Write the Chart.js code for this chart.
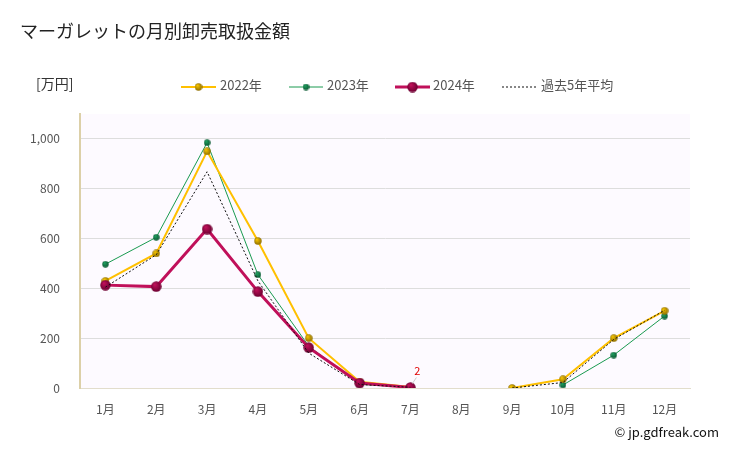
<!DOCTYPE html>
<html>
<head>
<meta charset="utf-8">
<script src="https://cdn.jsdelivr.net/npm/chart.js@4"></script>
<style>
  html, body { margin: 0; padding: 0; background: #fff; }
  #wrap { width: 729px; height: 450px; position: relative; }
</style>
</head>
<body>
<div id="wrap"><canvas id="chart" width="729" height="450"></canvas></div>
<script>
const months = ["1月", "2月", "3月", "4月", "5月", "6月", "7月", "8月", "9月", "10月", "11月", "12月"];
const values2022 = [430, 540, 950, 590, 200, 25, 4, null, 0, 35, 200, 310];
const values2023 = [497, 605, 985, 455, 168, 15, 3, null, null, 12, 132, 289];
const values2024 = [413, 407, 638, 387, 162, 20, 2, null, null, null, null, null];
const valuesAvg = [405, 535, 868, 430, 140, 14, 3, null, 0, 22, 195, 312];
const yTicks = [0, 200, 400, 600, 800, 1000];

const FONT = "'Noto Sans CJK JP', 'Noto Sans', sans-serif";

function sphere(color, dark, size) {
  const c = document.createElement("canvas");
  c.width = size;
  c.height = size;
  const ctx = c.getContext("2d");
  const r = size / 2;
  const g = ctx.createRadialGradient(r * 0.7, r * 0.6, r * 0.1, r, r, r);
  g.addColorStop(0, color);
  g.addColorStop(1, dark);
  ctx.fillStyle = g;
  ctx.beginPath();
  ctx.arc(r, r, r - 0.3, 0, Math.PI * 2);
  ctx.fill();
  return c;
}

const dot2022 = sphere("#f5c400", "#8a6a00", 8);
const dot2023 = sphere("#1fa060", "#0a5530", 7);
const dot2024 = sphere("#c0105a", "#6a0030", 11);

const series = [
  { label: "2022年", color: "#ffc000", width: 2, dot: dot2022, dash: [] },
  { label: "2023年", color: "#1a9a50", width: 1, dot: dot2023, dash: [] },
  { label: "2024年", color: "#c0105a", width: 3, dot: dot2024, dash: [] },
  { label: "過去5年平均", color: "#111", width: 1, dot: null, dash: [2, 2] },
];

const decorPlugin = {
  id: "decor",
  beforeDraw(chart) {
    const { ctx, chartArea } = chart;
    ctx.save();
    ctx.fillStyle = "#fdfaff";
    ctx.fillRect(chartArea.left, chartArea.top, chartArea.right - chartArea.left, chartArea.bottom - chartArea.top);
    ctx.restore();
  },
  afterDraw(chart) {
    const { ctx } = chart;
    ctx.save();
    ctx.fillStyle = "#222";
    ctx.font = `18px ${FONT}`;
    ctx.textBaseline = "middle";
    ctx.fillText("マーガレットの月別卸売取扱金額", 20, 31);

    ctx.font = `14px ${FONT}`;
    ctx.fillStyle = "#333";
    ctx.fillText("[万円]", 36, 84);

    // legend
    const items = [
      { x0: 181, x1: 216, tx: 220 },
      { x0: 289, x1: 323, tx: 327 },
      { x0: 395, x1: 430, tx: 433 },
      { x0: 502, x1: 536, tx: 541 },
    ];
    ctx.font = `13px ${FONT}`;
    items.forEach((it, i) => {
      const s = series[i];
      const y = 87;
      ctx.strokeStyle = s.color;
      ctx.lineWidth = s.width;
      ctx.setLineDash(s.dash);
      ctx.beginPath();
      ctx.moveTo(it.x0, y);
      ctx.lineTo(it.x1, y);
      ctx.stroke();
      ctx.setLineDash([]);
      if (s.dot) {
        const mid = (it.x0 + it.x1) / 2;
        ctx.drawImage(s.dot, mid - s.dot.width / 2, y - s.dot.height / 2);
      }
      ctx.fillStyle = "#555";
      ctx.fillText(s.label, it.tx, 85);
    });

    // value label for the last 2024 point
    const meta = chart.getDatasetMeta(2);
    const pt = meta.data[6];
    if (pt) {
      ctx.strokeStyle = "#ccc";
      ctx.lineWidth = 1;
      ctx.beginPath();
      ctx.moveTo(pt.x + 2, pt.y - 4);
      ctx.lineTo(pt.x + 6, pt.y - 10);
      ctx.stroke();
      ctx.fillStyle = "#e00000";
      ctx.font = `11px ${FONT}`;
      ctx.textAlign = "center";
      ctx.fillText(String(values2024[6]), pt.x + 7, pt.y - 17);
    }

    ctx.textAlign = "right";
    ctx.fillStyle = "#111";
    ctx.font = `13px ${FONT}`;
    ctx.fillText("© jp.gdfreak.com", 719, 432);
    ctx.restore();
  },
};

function makeDataset(s, data, order) {
  return {
    label: s.label,
    data: data,
    borderColor: s.color,
    backgroundColor: s.color,
    borderWidth: s.width,
    borderDash: s.dash,
    pointStyle: s.dot || false,
    pointRadius: s.dot ? s.dot.width / 2 : 0,
    pointHoverRadius: s.dot ? s.dot.width / 2 : 0,
    tension: 0,
    spanGaps: false,
    order: order,
  };
}

new Chart(document.getElementById("chart"), {
  type: "line",
  data: {
    labels: months,
    datasets: [
      makeDataset(series[0], values2022, 2),
      makeDataset(series[1], values2023, 3),
      makeDataset(series[2], values2024, 1),
      makeDataset(series[3], valuesAvg, 0),
    ],
  },
  options: {
    responsive: false,
    animation: false,
    devicePixelRatio: 1,
    layout: { padding: { top: 114, right: 39, bottom: 0, left: 0 } },
    plugins: {
      legend: { display: false },
      tooltip: { enabled: false },
    },
    scales: {
      x: {
        offset: true,
        grid: { display: false, drawTicks: false },
        border: { color: "#e2ddcc", width: 1 },
        ticks: { color: "#555", font: { size: 12, family: FONT }, padding: 14, maxRotation: 0 },
        afterFit: (scale) => { scale.height = 62; },
      },
      y: {
        min: 0,
        max: 1100,
        afterBuildTicks: (scale) => { scale.ticks = yTicks.map((v) => ({ value: v })); },
        grid: { color: "#dddddd", drawTicks: false },
        border: { color: "#dcd0a8", width: 2 },
        ticks: {
          color: "#555",
          font: { size: 12, family: FONT },
          padding: 20,
          callback: (value) => value.toLocaleString("en-US"),
        },
        afterFit: (scale) => { scale.width = 80; },
      },
    },
  },
  plugins: [decorPlugin],
});
</script>
</body>
</html>
